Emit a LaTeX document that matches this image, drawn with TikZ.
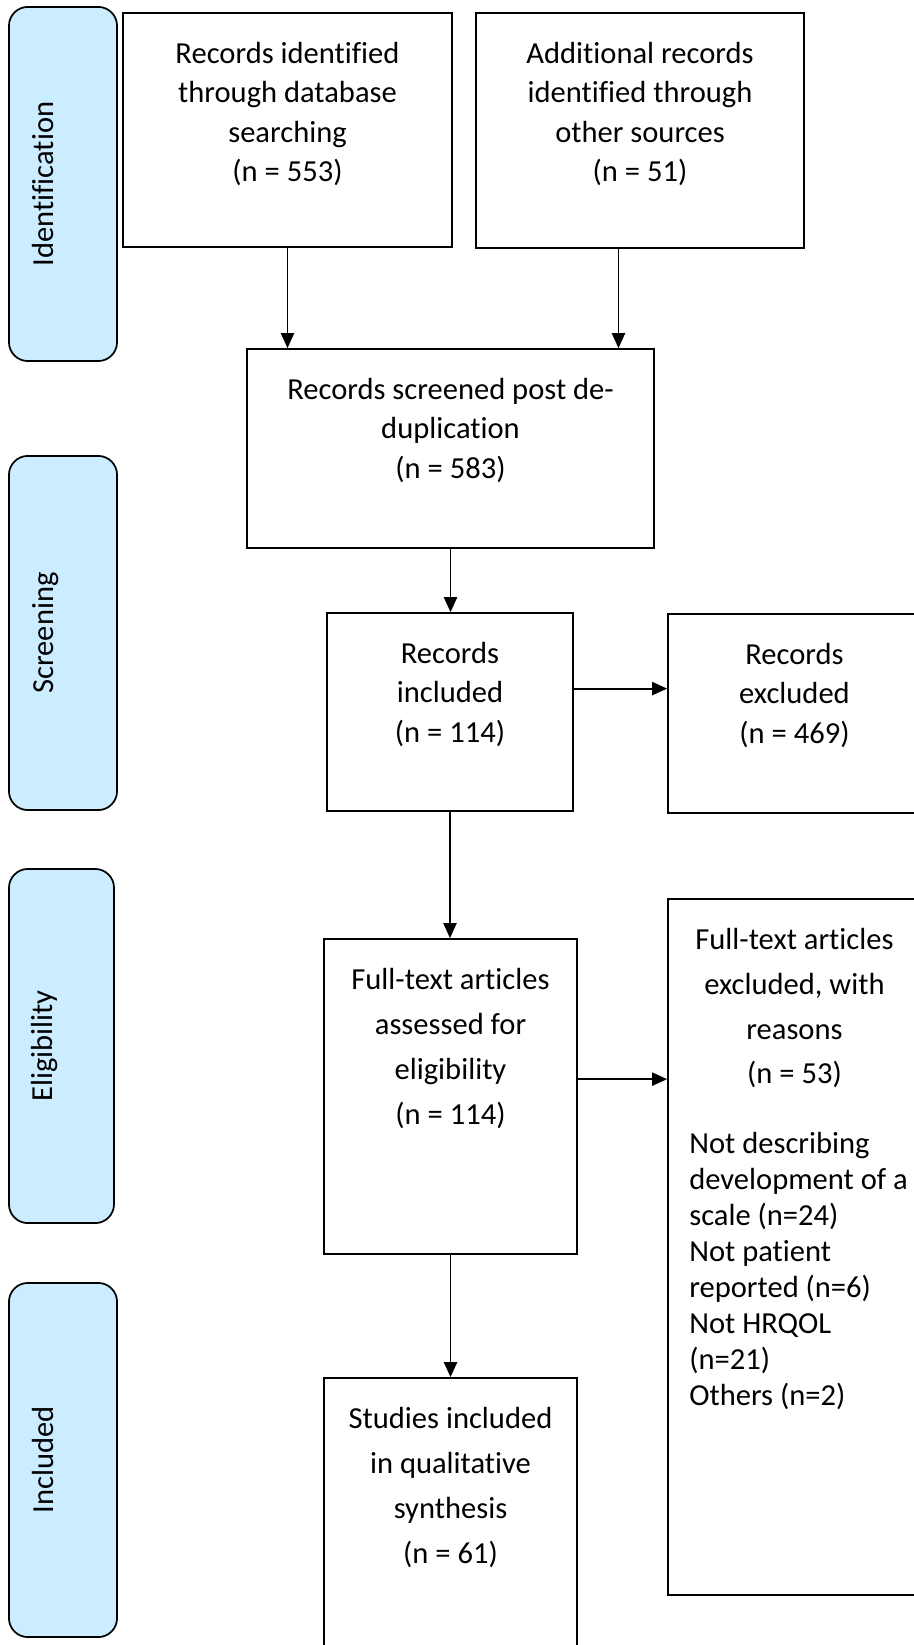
\documentclass[tikz,border=0pt]{standalone}
\usepackage{fontspec}
\setmainfont{Carlito}[RawFeature={-liga;-clig;-calt}]
\usetikzlibrary{positioning,arrows.meta}

\definecolor{phaseblue}{RGB}{204,236,255}

\begin{document}
\begin{tikzpicture}[
        nodeBox/.style={rectangle, draw=black, line width=1.3pt, inner sep=0pt},
        nodePhase/.style={rectangle, rounded corners=0.5cm, draw=black, line width=1.3pt, fill=phaseblue, rotate=90, minimum width=9.37cm, minimum height=2.86cm, text height=0.55cm, text depth=1.03cm, font=\fontsize{23}{28}\selectfont},
        nodeText/.style={align=center, inner sep=0pt, font=\fontsize{23}{29.6}\selectfont},
        nodeTextWide/.style={nodeText, font=\fontsize{23}{33.75}\selectfont},
        nodeList/.style={align=left, inner sep=0pt, font=\fontsize{23}{27}\selectfont},
        flow/.style={-{Triangle[length=0.4cm, width=0.35cm]}, line width=1.4pt}
        ]
        \useasboundingbox (0,0) rectangle (24.157,-43.524);
        \fill[white] (0,0) rectangle (24.157,-43.524);

        % phases on the left
        \node[nodePhase] (identification) at (1.667,-4.868) {Identification};
        \node[nodePhase] (screening) at (1.667,-16.748) {Screening};
        \node[nodePhase, minimum height=2.78cm] (eligibility) at (1.627,-27.676) {Eligibility};
        \node[nodePhase] (included) at (1.667,-38.629) {Included};

        % boxes
        \node[nodeBox, minimum width=8.705cm, minimum height=6.191cm] (database) at (7.607,-3.440) {};
        \node[nodeBox, minimum width=8.678cm, minimum height=6.218cm] (other) at (16.934,-3.453) {};
        \node[nodeBox, minimum width=10.769cm, minimum height=5.265cm] (screened) at (11.920,-11.867) {};
        \node[nodeBox, minimum width=6.509cm, minimum height=5.239cm] (recIncl) at (11.906,-18.839) {};
        \node[nodeBox, minimum width=6.694cm, minimum height=5.265cm] (recExcl) at (21.021,-18.878) {};
        \node[nodeBox, minimum width=6.694cm, minimum height=8.334cm] (fullText) at (11.920,-29.012) {};
        \node[nodeBox, minimum width=6.694cm, minimum height=18.415cm] (fullExcl) at (21.021,-32.994) {};
        \node[nodeBox, minimum width=6.694cm, minimum height=8.334cm] (studies) at (11.920,-40.627) {};

        \node[nodeText, below=0.79cm of database.north] (databaseText) {Records identified\\through database\\searching\\(n = 553)};
        \node[nodeText, below=0.79cm of other.north] (otherText) {Additional records\\identified through\\other sources\\(n = 51)};
        \node[nodeText, below=0.79cm of screened.north] (screenedText) {Records screened post de-\\duplication\\(n = 583)};
        \node[nodeText, below=0.79cm of recIncl.north] (recInclText) {Records\\included\\(n = 114)};
        \node[nodeText, below=0.79cm of recExcl.north] (recExclText) {Records\\excluded\\(n = 469)};
        \node[nodeTextWide, below=0.79cm of fullText.north] (fullTextText) {Full-text articles\\assessed for\\eligibility\\(n = 114)};
        \node[nodeTextWide, below=0.79cm of fullExcl.north] (fullExclText) {Full-text articles\\excluded, with\\reasons\\(n = 53)};
        \node[nodeList, anchor=north west] (reasons) at ([xshift=0.58cm, yshift=-6.2cm]fullExcl.north west) {Not describing\\development of a\\scale (n=24)\\Not patient\\reported (n=6)\\Not HRQOL\\(n=21)\\Others (n=2)};
        \node[nodeTextWide, below=0.79cm of studies.north] (studiesText) {Studies included\\in qualitative\\synthesis\\(n = 61)};

        % arrows
        \draw[flow] (database.south) -- (database.south |- screened.north);
        \draw[flow] ([xshift=-0.57cm]other.south) -- ([xshift=-0.57cm]other.south |- screened.north);
        \draw[flow] (screened.south) -- (screened.south |- recIncl.north);
        \draw[flow] ([yshift=0.62cm]recIncl.east) -- ([yshift=0.62cm]recIncl.east -| recExcl.west);
        \draw[flow] (recIncl.south) -- (recIncl.south |- fullText.north);
        \draw[flow] ([yshift=0.46cm]fullText.east) -- ([yshift=0.46cm]fullText.east -| fullExcl.west);
        \draw[flow] (fullText.south) -- (fullText.south |- studies.north);
    \end{tikzpicture}
\end{document}
